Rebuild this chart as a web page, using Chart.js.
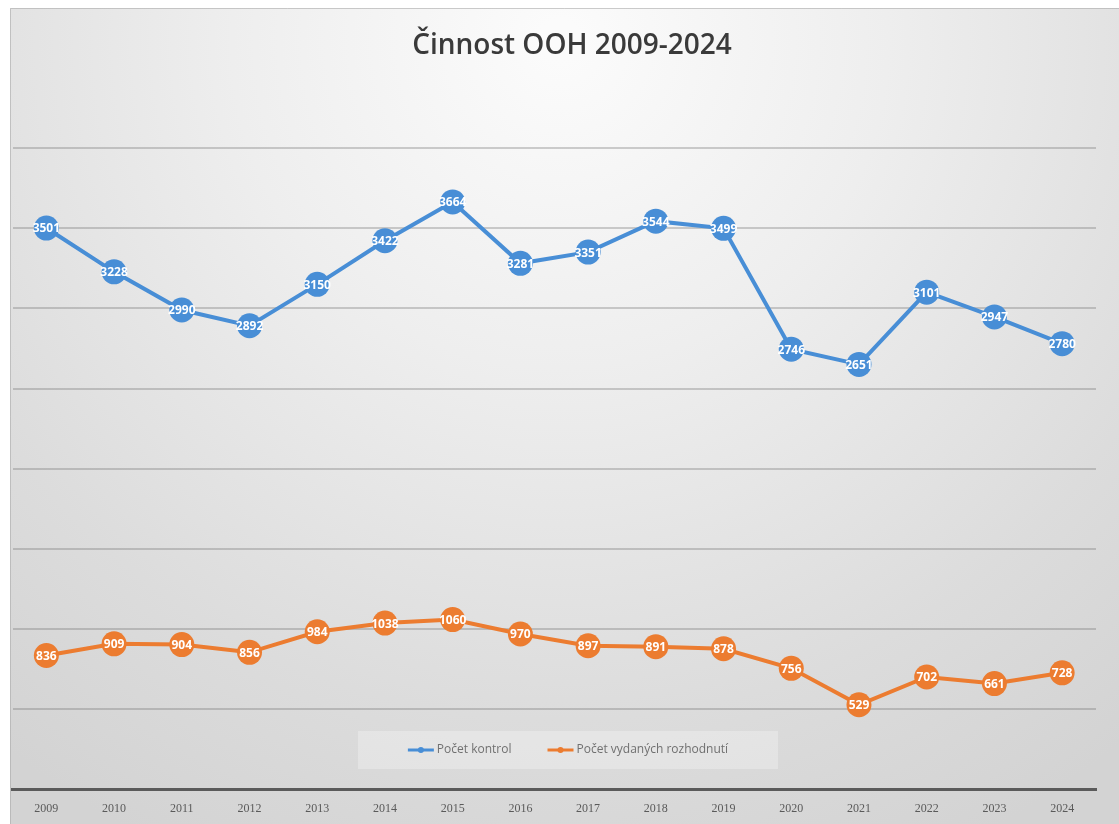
<!DOCTYPE html>
<html>
<head>
<meta charset="utf-8">
<script src="https://cdn.jsdelivr.net/npm/chart.js@4"></script>
<style>
html,body{margin:0;padding:0;background:#fff;}
#wrap{width:1119px;height:824px;position:relative;}
</style>
</head>
<body>
<div id="wrap"><canvas id="c" width="1119" height="824"></canvas></div>
<script>
const years = ['2009','2010','2011','2012','2013','2014','2015','2016','2017','2018','2019','2020','2021','2022','2023','2024'];
const pocetKontrol = [3501,3228,2990,2892,3150,3422,3664,3281,3351,3544,3499,2746,2651,3101,2947,2780];
const pocetRozhodnuti = [836,909,904,856,984,1038,1060,970,897,891,878,756,529,702,661,728];
const seriesNames = ['Počet kontrol','Počet vydaných rozhodnutí'];
const chartTitle = 'Činnost OOH 2009-2024';

const BLUE = 'rgb(72,142,214)';
const ORANGE = 'rgb(236,124,48)';

const bgPlugin = {
  id:'bg',
  beforeDraw(chart){
    const {ctx,width,height} = chart;
    ctx.save();
    ctx.fillStyle='#ffffff';
    ctx.fillRect(0,0,width,height);
    const g = ctx.createRadialGradient(560,40,20,560,40,900);
    g.addColorStop(0,'#fbfbfb');
    g.addColorStop(0.35,'#eeeeee');
    g.addColorStop(0.75,'#dcdcdc');
    g.addColorStop(1,'#d3d3d3');
    ctx.fillStyle=g;
    ctx.fillRect(10,8,width-10,height-8);
    ctx.strokeStyle='rgba(170,170,170,0.6)';
    ctx.lineWidth=1;
    ctx.beginPath();
    ctx.moveTo(10.5,height);ctx.lineTo(10.5,8.5);ctx.lineTo(width,8.5);
    ctx.stroke();
    ctx.restore();
  }
};

const titlePlugin = {
  id:'titleText',
  afterDraw(chart){
    const ctx = chart.ctx;
    ctx.save();
    ctx.fillStyle='#3a3a3a';
    ctx.font='600 28px "Open Sans", sans-serif';
    ctx.textAlign='center';
    ctx.textBaseline='middle';
    ctx.fillText(chartTitle, 572, 46);
    ctx.restore();
  }
};

const labelPlugin = {
  id:'vals',
  afterDatasetsDraw(chart){
    const ctx = chart.ctx;
    ctx.save();
    ctx.fillStyle='#ffffff';
    ctx.font='bold 12px "Liberation Sans Narrow", "Open Sans", sans-serif';
    ctx.textAlign='center';
    ctx.textBaseline='middle';
    chart.data.datasets.forEach((ds,i)=>{
      const meta = chart.getDatasetMeta(i);
      meta.data.forEach((pt,j)=>{
        ctx.fillText(String(ds.data[j]), pt.x, pt.y+1);
      });
    });
    ctx.restore();
  }
};

const legendPlugin = {
  id:'legendInside',
  afterDraw(chart){
    const ctx = chart.ctx;
    const cx = 568;
    const cy = 750;
    ctx.save();
    ctx.font='12px "Liberation Sans Narrow", "Open Sans", sans-serif';
    const items = chart.data.datasets.map(d=>({text:d.label,color:d.borderColor,w:ctx.measureText(d.label).width}));
    const lineW = 26, gapText = 3, gapItem = 36;
    let total = 0;
    items.forEach((it,i)=>{ total += lineW+gapText+it.w + (i? gapItem:0); });
    const boxW = 420, boxH = 38;
    ctx.fillStyle='rgba(255,255,255,0.28)';
    ctx.fillRect(cx-boxW/2, cy-boxH/2, boxW, boxH);
    let x = cx-total/2;
    items.forEach((it,i)=>{
      if(i) x+=gapItem;
      ctx.strokeStyle=it.color; ctx.lineWidth=3;
      ctx.beginPath(); ctx.moveTo(x,cy); ctx.lineTo(x+lineW,cy); ctx.stroke();
      ctx.fillStyle=it.color;
      ctx.beginPath(); ctx.arc(x+lineW/2,cy,3,0,Math.PI*2); ctx.fill();
      x+=lineW+gapText;
      ctx.fillStyle='#707070';
      ctx.textAlign='left'; ctx.textBaseline='middle';
      ctx.fillText(it.text,x,cy);
      x+=it.w;
    });
    ctx.restore();
  }
};

new Chart(document.getElementById('c'),{
  type:'line',
  data:{
    labels:years,
    datasets:[
      {label:seriesNames[0],data:pocetKontrol,borderColor:BLUE,backgroundColor:BLUE,borderWidth:4,pointRadius:12.5,pointHoverRadius:12.5,pointBorderWidth:0,pointBackgroundColor:BLUE,tension:0},
      {label:seriesNames[1],data:pocetRozhodnuti,borderColor:ORANGE,backgroundColor:ORANGE,borderWidth:4,pointRadius:12.5,pointHoverRadius:12.5,pointBorderWidth:0,pointBackgroundColor:ORANGE,tension:0}
    ]
  },
  options:{
    responsive:false,
    animation:false,
    devicePixelRatio:1,
    layout:{padding:{left:10,right:23,top:148,bottom:-4}},
    plugins:{
      legend:{display:false},
      tooltip:{enabled:false},
      title:{display:false}
    },
    scales:{
      x:{
        offset:true,
        grid:{display:false,drawTicks:false},
        border:{display:true,color:'#5a5a5a',width:3},
        ticks:{color:'#5a5a5a',font:{family:'"Liberation Sans Narrow", "Liberation Serif", serif',size:12},padding:12}
      },
      y:{
        min:0,max:4000,
        ticks:{display:false,stepSize:500},
        grid:{color:'rgba(110,110,110,0.32)',lineWidth:2,drawTicks:false},
        border:{display:false}
      }
    }
  },
  plugins:[bgPlugin,labelPlugin,legendPlugin,titlePlugin]
});
</script>
</body>
</html>
